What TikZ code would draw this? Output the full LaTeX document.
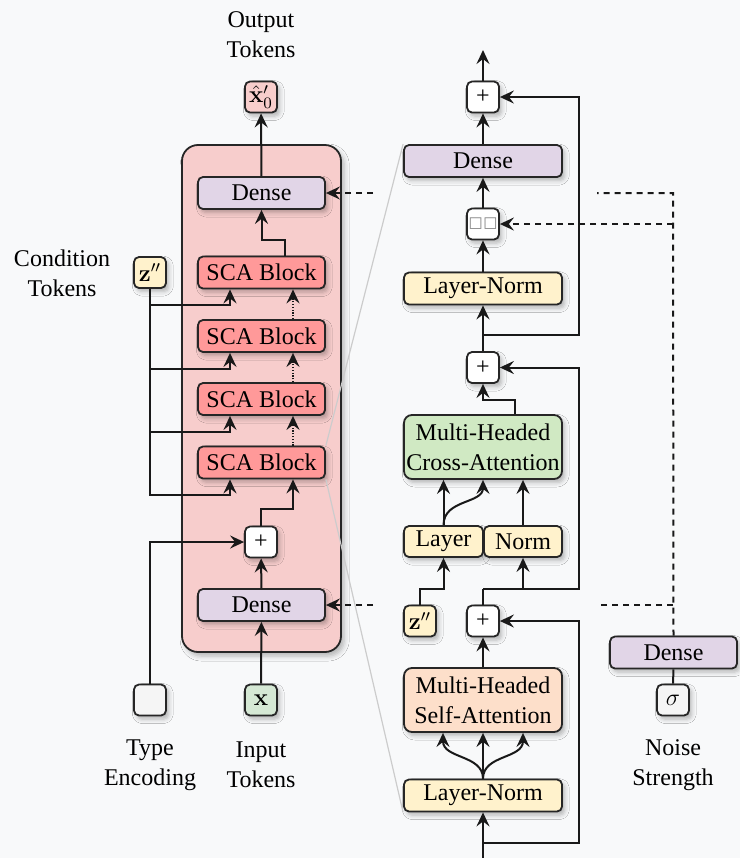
\documentclass[tikz,border=0pt]{standalone}
\usepackage[no-math]{fontspec}
\setmainfont{Liberation Serif}
\newfontfamily\symfont{DejaVu Sans}
\usetikzlibrary{arrows.meta,calc,shadows.blur}

\definecolor{bgc}{HTML}{F8F9FA}
\definecolor{encc}{HTML}{F7CDCC}
\definecolor{scac}{HTML}{FF9999}
\definecolor{densec}{HTML}{E1D5E7}
\definecolor{normc}{HTML}{FFF2CC}
\definecolor{crossc}{HTML}{D0E9C3}
\definecolor{selfc}{HTML}{FDDFCA}
\definecolor{inputc}{HTML}{D5E8D4}
\definecolor{greyc}{HTML}{F5F5F5}
\definecolor{xhatc}{HTML}{F8CECC}

\begin{document}
\begin{tikzpicture}[x=0.5pt,y=-0.5pt,
  font=\fontsize{12}{15}\selectfont,
  every node/.append style={text=black},
  box/.style={draw=black!85, line width=0.9pt, rounded corners=2.5pt, inner sep=0pt,
    blur shadow={shadow xshift=1.4pt, shadow yshift=-1.8pt, shadow blur radius=2.2pt, shadow opacity=28}},
  sq/.style={box, minimum width=16pt, minimum height=15.5pt},
  lw/.style={box, minimum width=63.5pt, minimum height=16pt},
  rw/.style={box, minimum width=79pt, minimum height=16pt},
  rt/.style={box, minimum width=79pt, minimum height=32pt, align=center, rounded corners=4pt},
  half/.style={box, minimum height=15.5pt},
  container/.style={draw=black!85, line width=0.9pt, rounded corners=8pt, fill=encc,
    minimum width=79.5pt, minimum height=253.5pt, inner sep=0pt,
    blur shadow={shadow xshift=1.6pt, shadow yshift=-2pt, shadow blur radius=2.5pt, shadow opacity=28}},
  link/.style={line width=1pt, draw=black!90},
  arr/.style={link, -{Stealth[length=7pt,width=6.5pt,inset=2.5pt]}},
  dashlink/.style={link, dash pattern=on 3pt off 2.5pt},
  dasharr/.style={arr, dash pattern=on 3pt off 2.5pt},
  dotarr/.style={arr, dash pattern=on 0.6pt off 0.8pt},
  lbl/.style={align=center, inner sep=0pt},
  zoomline/.style={draw=gray!40, line width=0.6pt}
]

% canvas and encoder frame
\fill[bgc] (0,0) rectangle (740,858);
\useasboundingbox (0,0) rectangle (740,858);
\node[container] (enc) at (261.5,398.5) {};

% ---------- encoder stack ----------
\node[sq, fill=xhatc] (xhat) at (261,97) {$\hat{\mathbf{x}}'_0$};
\node[lw, fill=densec] (dense2) at (261.5,193) {Dense};
\node[lw, fill=scac] (sca1) at (261.5,272.5) {SCA Block};
\node[lw, fill=scac] (sca2) at (261.5,336) {SCA Block};
\node[lw, fill=scac] (sca3) at (261.5,399) {SCA Block};
\node[lw, fill=scac] (sca4) at (261.5,462.5) {SCA Block};
\node[sq, fill=white] (plusL) at (261,542) {+};
\node[lw, fill=densec] (dense1) at (261.5,605) {Dense};
\node[sq, fill=inputc] (xin) at (261,700) {$\mathbf{x}$};
\node[sq, fill=greyc] (type) at (150,700) {};
\node[sq, fill=normc] (condL) at (150,272.5) {$\mathbf{z}''$};

\node[lbl] (outlbl) at (261,35) {Output\\Tokens};
\node[lbl] (condlbl) at (62,273) {Condition\\Tokens};
\node[lbl] (typelbl) at (150,765) {Type\\Encoding};
\node[lbl] (inlbl) at (261,765) {Input\\Tokens};

% ---------- SCA block detail ----------
\node[sq, fill=white] (addC) at (483,97) {+};
\node[rw, fill=densec] (denseR) at (483,161) {Dense};
\node[sq, fill=white] (mod) at (483,224) {\symfont\fontsize{7.5}{7.5}\selectfont\color{gray}□\kern0.3pt□};
\node[rw, fill=normc] (lnB) at (483,288.5) {Layer-Norm};
\node[sq, fill=white] (addB) at (483,367.5) {+};
\node[rt, fill=crossc] (mhca) at (483,447) {Multi-Headed\\Cross-Attention};
\node[half, fill=normc, minimum width=39.5pt] (layer) at (443.5,541.5) {Layer};
\node[half, fill=normc, minimum width=39pt] (norm) at (523,541.5) {Norm};
\node[sq, fill=normc] (condR) at (420,621) {$\mathbf{z}''$};
\node[sq, fill=white] (addA) at (483,621) {+};
\node[rt, fill=selfc] (mhsa) at (483,700) {Multi-Headed\\Self-Attention};
\node[rw, fill=normc] (lnA) at (483,795.5) {Layer-Norm};

% ---------- noise conditioning ----------
\node[lw, fill=densec] (denseN) at (673.5,652.5) {Dense};
\node[sq, fill=greyc] (sigma) at (673,700) {$\sigma$};
\node[lbl] (noiselbl) at (673,765) {Noise\\Strength};

% named free ends
\coordinate (in) at (483,858);
\coordinate (out) at (483,50);
\coordinate (tapA) at (483,843);
\coordinate (tapB) at (483,589);
\coordinate (tapC) at (483,335);
\coordinate (nTop) at (673,193);
\coordinate (gapR1) at (597,193);
\coordinate (gapL1) at (373,193);
\coordinate (gapR2) at (597,605);
\coordinate (gapL2) at (373,605);

% zoom guides from the last SCA block to its detail view
\draw[zoomline] (sca4.north east) -- (denseR.north west);
\draw[zoomline] (sca4.south east) -- (lnA.south west);

% ---------- encoder connectors ----------
\draw[arr] (xin) -- (dense1);
\draw[arr] (dense1) -- (plusL);
\draw[arr] (type.north) |- (plusL.west);
\draw[arr] (plusL.north) -- ++(0,-17) -| ($(sca4.south)+(31.5,0)$);
\draw[dotarr] ($(sca4.north)+(31.5,0)$) -- ($(sca3.south)+(31.5,0)$);
\draw[dotarr] ($(sca3.north)+(31.5,0)$) -- ($(sca2.south)+(31.5,0)$);
\draw[dotarr] ($(sca2.north)+(31.5,0)$) -- ($(sca1.south)+(31.5,0)$);
\draw[arr] ($(sca1.north)+(23.5,0)$) -- ++(0,-16) -| (dense2.south);
\draw[arr] (dense2) -- (xhat);
\foreach \s in {sca1,sca2,sca3,sca4}
  \draw[arr] (condL.south) |- ($(\s.south)+(-31.5,16)$) -- ($(\s.south)+(-31.5,0)$);

% ---------- detail connectors ----------
\draw[arr] (in) -- (lnA.south);
\draw[arr] (tapA) -| ($(addA.east)+(79,0)$) -- (addA.east);
\draw[arr] (lnA.north) -- (mhsa.south);
\draw[arr] (lnA.north) .. controls +(0,-24) and +(0,26) .. ($(mhsa.south)+(-40,0)$);
\draw[arr] (lnA.north) .. controls +(0,-24) and +(0,26) .. ($(mhsa.south)+(40,0)$);
\draw[arr] (mhsa) -- (addA);
\draw[link] (addA.north) -- (tapB);
\draw[arr] (tapB) -| ($(addB.east)+(79,0)$) -- (addB.east);
\draw[arr] (tapB -| norm.south) -- (norm.south);
\draw[arr] (condR.north) |- (tapB -| layer.south) -- (layer.south);
\draw[arr] (layer.north) -- (layer.north |- mhca.south);
\draw[arr] (layer.north) .. controls +(0,-26) and +(0,24) .. (mhca.south);
\draw[arr] (norm.north) -- (norm.north |- mhca.south);
\draw[arr] ($(mhca.north)+(32,0)$) |- ($(addB.south)+(0,16)$) -- (addB.south);
\draw[arr] (addB.north) -- (lnB.south);
\draw[arr] (tapC) -| ($(addC.east)+(79,0)$) -- (addC.east);
\draw[arr] (lnB) -- (mod);
\draw[arr] (mod) -- (denseR);
\draw[arr] (denseR) -- (addC);
\draw[arr] (addC) -- (out);

% ---------- noise connectors ----------
\draw[link] (sigma) -- (denseN);
\draw[dashlink] (denseN.north) -- (nTop) -- (gapR1);
\draw[dasharr] (nTop |- mod.east) -- (mod.east);
\draw[dashlink] (nTop |- gapR2) -- (gapR2);
\draw[dasharr] (gapL1) -- (dense2.east);
\draw[dasharr] (gapL2) -- (dense1.east);

\end{tikzpicture}
\end{document}
